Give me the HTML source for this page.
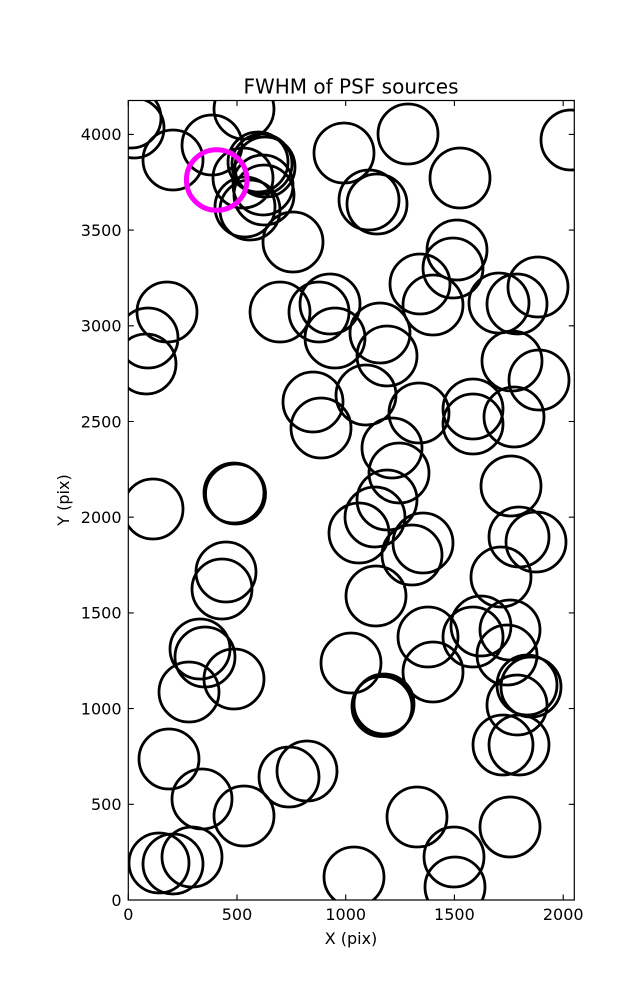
<!DOCTYPE html>
<html>
<head>
<meta charset="utf-8">
<style>
html,body{margin:0;padding:0;background:#fff;}
svg{display:block;}
text{font-family:"DejaVu Sans","Liberation Sans",sans-serif;fill:#000;}
</style>
</head>
<body>
<svg width="637" height="1000" viewBox="0 0 637 1000" xmlns="http://www.w3.org/2000/svg">
<rect x="0" y="0" width="637" height="1000" fill="#fff"/>
<defs>
<clipPath id="ax"><rect x="128.3" y="100.5" width="446" height="799.5"/></clipPath>
</defs>
<path clip-path="url(#ax)" fill="none" stroke="#000" stroke-width="2.8" d="
M101 118a30 30 0 1 0 60 0a30 30 0 1 0-60 0 M104 128a30 30 0 1 0 60 0a30 30 0 1 0-60 0 M143 160a30 30 0 1 0 60 0a30 30 0 1 0-60 0 M182 145a30 30 0 1 0 60 0a30 30 0 1 0-60 0 M214 109a30 30 0 1 0 60 0a30 30 0 1 0-60 0 M228 162a30 30 0 1 0 60 0a30 30 0 1 0-60 0 M232 164a30 30 0 1 0 60 0a30 30 0 1 0-60 0 M235 167a30 30 0 1 0 60 0a30 30 0 1 0-60 0 M213 178a30 30 0 1 0 60 0a30 30 0 1 0-60 0 M233 185a30 30 0 1 0 60 0a30 30 0 1 0-60 0
M234 195a30 30 0 1 0 60 0a30 30 0 1 0-60 0 M215 207a30 30 0 1 0 60 0a30 30 0 1 0-60 0 M220 210a30 30 0 1 0 60 0a30 30 0 1 0-60 0 M263 242a30 30 0 1 0 60 0a30 30 0 1 0-60 0 M314 153a30 30 0 1 0 60 0a30 30 0 1 0-60 0 M378 134a30 30 0 1 0 60 0a30 30 0 1 0-60 0 M430 178a30 30 0 1 0 60 0a30 30 0 1 0-60 0 M541 140a30 30 0 1 0 60 0a30 30 0 1 0-60 0 M339 200a30 30 0 1 0 60 0a30 30 0 1 0-60 0 M347 204a30 30 0 1 0 60 0a30 30 0 1 0-60 0
M427 250a30 30 0 1 0 60 0a30 30 0 1 0-60 0 M423 268a30 30 0 1 0 60 0a30 30 0 1 0-60 0 M390 284a30 30 0 1 0 60 0a30 30 0 1 0-60 0 M403 305a30 30 0 1 0 60 0a30 30 0 1 0-60 0 M469 303a30 30 0 1 0 60 0a30 30 0 1 0-60 0 M487 304a30 30 0 1 0 60 0a30 30 0 1 0-60 0 M508 287a30 30 0 1 0 60 0a30 30 0 1 0-60 0 M137 312a30 30 0 1 0 60 0a30 30 0 1 0-60 0 M118 338a30 30 0 1 0 60 0a30 30 0 1 0-60 0 M116 364a30 30 0 1 0 60 0a30 30 0 1 0-60 0
M250 312a30 30 0 1 0 60 0a30 30 0 1 0-60 0 M289 312a30 30 0 1 0 60 0a30 30 0 1 0-60 0 M300 304a30 30 0 1 0 60 0a30 30 0 1 0-60 0 M305 338a30 30 0 1 0 60 0a30 30 0 1 0-60 0 M350 333a30 30 0 1 0 60 0a30 30 0 1 0-60 0 M357 356a30 30 0 1 0 60 0a30 30 0 1 0-60 0 M482 361a30 30 0 1 0 60 0a30 30 0 1 0-60 0 M509 380a30 30 0 1 0 60 0a30 30 0 1 0-60 0 M283 402a30 30 0 1 0 60 0a30 30 0 1 0-60 0 M291 428a30 30 0 1 0 60 0a30 30 0 1 0-60 0
M336 395a30 30 0 1 0 60 0a30 30 0 1 0-60 0 M389 413a30 30 0 1 0 60 0a30 30 0 1 0-60 0 M443 409a30 30 0 1 0 60 0a30 30 0 1 0-60 0 M443 424a30 30 0 1 0 60 0a30 30 0 1 0-60 0 M484 417a30 30 0 1 0 60 0a30 30 0 1 0-60 0 M362 448a30 30 0 1 0 60 0a30 30 0 1 0-60 0 M369 473a30 30 0 1 0 60 0a30 30 0 1 0-60 0 M481 486a30 30 0 1 0 60 0a30 30 0 1 0-60 0 M123 509a30 30 0 1 0 60 0a30 30 0 1 0-60 0 M204 493a30 30 0 1 0 60 0a30 30 0 1 0-60 0
M205.5 494a30 30 0 1 0 60 0a30 30 0 1 0-60 0 M357 500a30 30 0 1 0 60 0a30 30 0 1 0-60 0 M345 517a30 30 0 1 0 60 0a30 30 0 1 0-60 0 M329 533a30 30 0 1 0 60 0a30 30 0 1 0-60 0 M393 543a30 30 0 1 0 60 0a30 30 0 1 0-60 0 M382 555a30 30 0 1 0 60 0a30 30 0 1 0-60 0 M489 537a30 30 0 1 0 60 0a30 30 0 1 0-60 0 M506 542a30 30 0 1 0 60 0a30 30 0 1 0-60 0 M471 577a30 30 0 1 0 60 0a30 30 0 1 0-60 0 M196 572a30 30 0 1 0 60 0a30 30 0 1 0-60 0
M192 589a30 30 0 1 0 60 0a30 30 0 1 0-60 0 M346 596a30 30 0 1 0 60 0a30 30 0 1 0-60 0 M170 649a30 30 0 1 0 60 0a30 30 0 1 0-60 0 M175 657a30 30 0 1 0 60 0a30 30 0 1 0-60 0 M159 692a30 30 0 1 0 60 0a30 30 0 1 0-60 0 M204 679a30 30 0 1 0 60 0a30 30 0 1 0-60 0 M321 663a30 30 0 1 0 60 0a30 30 0 1 0-60 0 M398 637a30 30 0 1 0 60 0a30 30 0 1 0-60 0 M403 672a30 30 0 1 0 60 0a30 30 0 1 0-60 0 M443 637a30 30 0 1 0 60 0a30 30 0 1 0-60 0
M451 626a30 30 0 1 0 60 0a30 30 0 1 0-60 0 M480 630a30 30 0 1 0 60 0a30 30 0 1 0-60 0 M477 655a30 30 0 1 0 60 0a30 30 0 1 0-60 0 M353 705a30 30 0 1 0 60 0a30 30 0 1 0-60 0 M352 706.5a30 30 0 1 0 60 0a30 30 0 1 0-60 0 M354 704a30 30 0 1 0 60 0a30 30 0 1 0-60 0 M497 685a30 30 0 1 0 60 0a30 30 0 1 0-60 0 M501 687a30 30 0 1 0 60 0a30 30 0 1 0-60 0 M487 705a30 30 0 1 0 60 0a30 30 0 1 0-60 0 M473 745a30 30 0 1 0 60 0a30 30 0 1 0-60 0
M489 745a30 30 0 1 0 60 0a30 30 0 1 0-60 0 M139 759a30 30 0 1 0 60 0a30 30 0 1 0-60 0 M172 799a30 30 0 1 0 60 0a30 30 0 1 0-60 0 M214 816a30 30 0 1 0 60 0a30 30 0 1 0-60 0 M259 777a30 30 0 1 0 60 0a30 30 0 1 0-60 0 M277 771a30 30 0 1 0 60 0a30 30 0 1 0-60 0 M129 863a30 30 0 1 0 60 0a30 30 0 1 0-60 0 M143 864a30 30 0 1 0 60 0a30 30 0 1 0-60 0 M162 857a30 30 0 1 0 60 0a30 30 0 1 0-60 0 M324 877a30 30 0 1 0 60 0a30 30 0 1 0-60 0
M387 817a30 30 0 1 0 60 0a30 30 0 1 0-60 0 M480 827a30 30 0 1 0 60 0a30 30 0 1 0-60 0 M424 857a30 30 0 1 0 60 0a30 30 0 1 0-60 0 M425 887a30 30 0 1 0 60 0a30 30 0 1 0-60 0"/>
<circle clip-path="url(#ax)" cx="216.7" cy="180" r="30.3" fill="none" stroke="#ff00ff" stroke-width="5"/>
<rect x="128.3" y="100.5" width="446" height="799.5" fill="none" stroke="#000" stroke-width="1.2"/>
<path fill="none" stroke="#000" stroke-width="1.1" d="
M128.3 900v-5.5M237 900v-5.5M345.7 900v-5.5M454.4 900v-5.5M563.2 900v-5.5
M128.3 100.5v5.5M237 100.5v5.5M345.7 100.5v5.5M454.4 100.5v5.5M563.2 100.5v5.5
M128.3 804.3h5.5M128.3 708.6h5.5M128.3 612.9h5.5M128.3 517.2h5.5M128.3 421.5h5.5M128.3 325.8h5.5M128.3 230.1h5.5M128.3 134.4h5.5
M574.3 804.3h-5.5M574.3 708.6h-5.5M574.3 612.9h-5.5M574.3 517.2h-5.5M574.3 421.5h-5.5M574.3 325.8h-5.5M574.3 230.1h-5.5M574.3 134.4h-5.5"/>
<text font-size="16" text-anchor="middle" y="920"><tspan x="128.3">0</tspan><tspan x="237">500</tspan><tspan x="345.7">1000</tspan><tspan x="454.4">1500</tspan><tspan x="563.2">2000</tspan></text>
<text font-size="16" text-anchor="end" x="121.5"><tspan x="121.5" y="905.8">0</tspan><tspan x="121.5" y="810.1">500</tspan><tspan x="121.5" y="714.4">1000</tspan><tspan x="121.5" y="618.7">1500</tspan><tspan x="121.5" y="523">2000</tspan><tspan x="121.5" y="427.3">2500</tspan><tspan x="121.5" y="331.6">3000</tspan><tspan x="121.5" y="235.9">3500</tspan><tspan x="121.5" y="140.2">4000</tspan></text>
<text x="351" y="944" font-size="16" text-anchor="middle">X (pix)</text>
<text transform="translate(69,500) rotate(-90)" font-size="16" text-anchor="middle">Y (pix)</text>
<text x="351" y="93.5" font-size="20" text-anchor="middle">FWHM of PSF sources</text>
</svg>
</body>
</html>
